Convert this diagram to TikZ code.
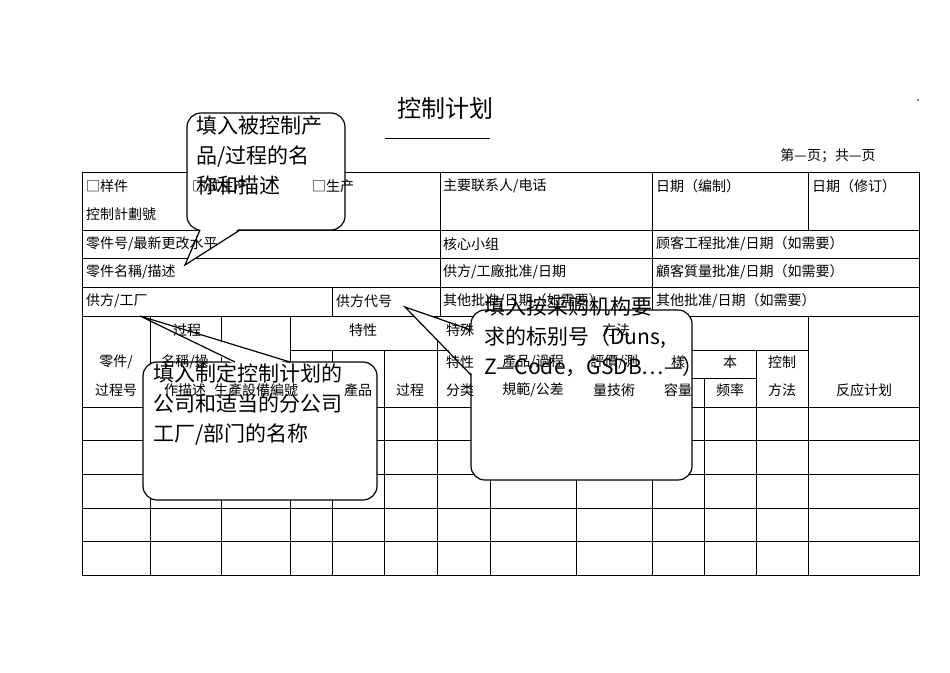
\documentclass[tikz,border=0pt]{standalone}
\usepackage{fontspec}
\setmainfont{Noto Sans CJK SC}
\begin{document}
\begin{tikzpicture}[x=1pt,y=-1pt,
 t/.style={anchor=west,inner sep=0pt,font=\fontsize{14}{16}\selectfont},
 c/.style={inner sep=0pt,font=\fontsize{14}{16}\selectfont},
 bub/.style={draw,line width=1.2pt,fill=white,rounded corners=14pt},
 bt/.style={anchor=north west,inner sep=0pt,align=left,font=\fontsize{21}{30}\selectfont}]
\useasboundingbox (0,0) rectangle (950,672);
\fill (918,100) circle (0.8);
\node[inner sep=0pt,font=\fontsize{24}{28}\selectfont] (title) at (445,108) {控制计划};
\draw (385,138) -- (490,138);
\node[c] (page) at (828,156) {第---页；共---页};
% grid
\draw[line width=0.8pt] (82,172) rectangle (919,575);
\foreach \y in {230,258,287,316,407,440,474,508,541} \draw[line width=0.8pt] (82,\y) -- (919,\y);
\draw[line width=0.8pt] (440,172) -- (440,316) (652,172) -- (652,316) (808,172) -- (808,230) (332,287) -- (332,316);
\foreach \x in {150,221,290,437,808} \draw[line width=0.8pt] (\x,316) -- (\x,575);
\foreach \x in {332,384,756} \draw[line width=0.8pt] (\x,350) -- (\x,575);
\draw[line width=0.8pt] (704,378) -- (704,575) (490,407) -- (490,575) (576,407) -- (576,575) (652,316) -- (652,575);
\draw[line width=0.8pt] (290,350) -- (437,350) (437,350) -- (808,350) (652,378) -- (756,378);
% bubbles
\draw[bub] (187,113) rectangle (345,230);
\fill[white] (200,228) -- (240,228) -- (185,265) -- cycle;
\draw[line width=1.2pt] (200,230) -- (185,265) -- (240,230);
\draw[bub] (143,362) rectangle (377,500);
\fill[white] (235,364) -- (290,364) -- (140,316) -- cycle;
\draw[line width=1.2pt] (235,362) -- (140,316) -- (290,362);
\draw[bub] (471,310) rectangle (692,480);
\fill[white] (473,330) -- (473,375) -- (405,307) -- cycle;
\draw[line width=1.2pt] (471,330) -- (405,307) -- (471,375);
% table text
\node[t] at (86,186) {□样件};
\node[t] at (192,186) {□试生产};
\node[t] at (312,186) {□生产};
\node[t] at (86,214) {控制計劃號};
\node[t] at (443,186) {主要联系人/电话};
\node[t] at (656,186) {日期（编制）};
\node[t] at (812,186) {日期（修订）};
\node[t] at (86,244) {零件号/最新更改水平};
\node[t] at (443,244) {核心小组};
\node[t] at (656,244) {顾客工程批准/日期（如需要）};
\node[t] at (86,272) {零件名稱/描述};
\node[t] at (443,272) {供方/工廠批准/日期};
\node[t] at (656,272) {顧客質量批准/日期（如需要）};
\node[t] at (86,301) {供方/工厂};
\node[t] at (336,301) {供方代号};
\node[t] at (443,301) {其他批准/日期（如需要）};
\node[t] at (656,301) {其他批准/日期（如需要）};
\node[c] at (187,330) {过程};
\node[c] at (363,330) {特性};
\node[t] at (446,330) {特殊};
\node[c] at (616,330) {方法};
\node[c] at (116,362) {零件/};
\node[c] at (116,390) {过程号};
\node[c] at (185,362) {名稱/操};
\node[c] at (185,390) {作描述};
\node[c] at (256,390) {生產設備編號};
\node[c] at (358,390) {產品};
\node[c] at (410,390) {过程};
\node[t] at (446,362) {特性};
\node[t] at (446,390) {分类};
\node[c] at (533,362) {產品/過程};
\node[c] at (533,390) {規範/公差};
\node[c] at (614,362) {評價/測};
\node[c] at (614,390) {量技術};
\node[c] at (678,362) {樣};
\node[c] at (678,390) {容量};
\node[c] at (730,362) {本};
\node[c] at (730,390) {频率};
\node[c] at (782,362) {控制};
\node[c] at (782,390) {方法};
\node[c] at (864,390) {反应计划};
% bubble text
\node[bt] (b1) at (196,116) {填入被控制产\\品/过程的名\\称和描述};
\node[bt] (b2) at (153,364) {填入制定控制计划的\\公司和适当的分公司\\工厂/部门的名称};
\node[bt] (b3) at (484,297) {填入按采购机构要\\求的标别号（Duns,\\Z—Code，GSDB…—）};
\end{tikzpicture}
\end{document}
